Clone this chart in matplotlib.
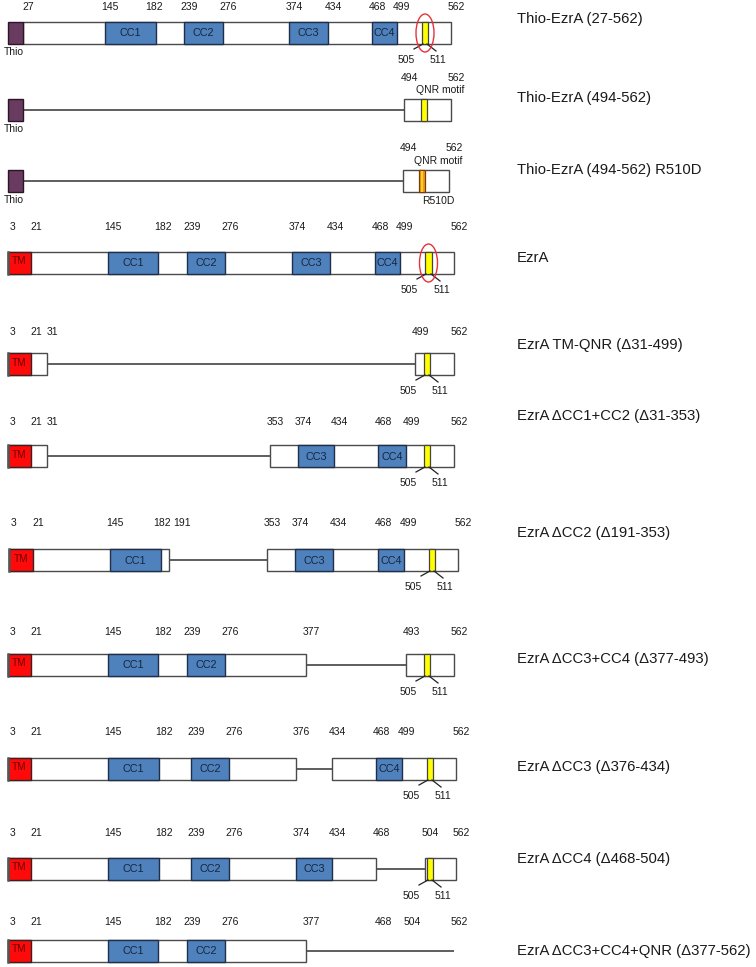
import numpy as np
import matplotlib
matplotlib.use("Agg")
import matplotlib.pyplot as plt
from matplotlib.patches import Rectangle, Ellipse
import matplotlib.transforms as mtransforms

plt.rcParams['font.family'] = ['Liberation Sans', 'DejaVu Sans']

# ---------------- data ----------------
names = [
    "Thio-EzrA (27-562)",
    "Thio-EzrA (494-562)",
    "Thio-EzrA (494-562) R510D",
    "EzrA",
    "EzrA TM-QNR (\u039431-499)",
    "EzrA \u0394CC1+CC2 (\u039431-353)",
    "EzrA \u0394CC2 (\u0394191-353)",
    "EzrA \u0394CC3+CC4 (\u0394377-493)",
    "EzrA \u0394CC3 (\u0394376-434)",
    "EzrA \u0394CC4 (\u0394468-504)",
    "EzrA \u0394CC3+CC4+QNR (\u0394377-562)",
]
tags = ["Thio", "Thio", "Thio", "TM", "TM", "TM", "TM", "TM", "TM", "TM", "TM"]
starts = [27, 27, 27, 3, 3, 3, 3, 3, 3, 3, 3]
ends = [562] * 11
fragments = [
    [(27, 562)],
    [(494, 562)],
    [(494, 562)],
    [(3, 562)],
    [(3, 31), (499, 562)],
    [(3, 31), (353, 562)],
    [(3, 191), (353, 562)],
    [(3, 377), (493, 562)],
    [(3, 376), (434, 562)],
    [(3, 468), (504, 562)],
    [(3, 377)],
]
tm_range = (3, 21)
cc_ranges = {"CC1": (145, 182), "CC2": (239, 276), "CC3": (374, 434), "CC4": (468, 499)}
row_domains = [
    ["CC1", "CC2", "CC3", "CC4"],
    [], [],
    ["CC1", "CC2", "CC3", "CC4"],
    [],
    ["CC3", "CC4"],
    ["CC1", "CC3", "CC4"],
    ["CC1", "CC2"],
    ["CC1", "CC2", "CC4"],
    ["CC1", "CC2", "CC3"],
    ["CC1", "CC2"],
]
qnr_range = (505, 511)
has_qnr = [True] * 10 + [False]
mutant = [False, False, True] + [False] * 8
circled = [True, False, False, True] + [False] * 7
motif_ticks = [True, False, False, True, True, True, True, True, True, True, False]
tick_labels = [
    [27, 145, 182, 239, 276, 374, 434, 468, 499, 562],
    [494, 562],
    [494, 562],
    [3, 21, 145, 182, 239, 276, 374, 434, 468, 499, 562],
    [3, 21, 31, 499, 562],
    [3, 21, 31, 353, 374, 434, 468, 499, 562],
    [3, 21, 145, 182, 191, 353, 374, 434, 468, 499, 562],
    [3, 21, 145, 182, 239, 276, 377, 493, 562],
    [3, 21, 145, 182, 239, 276, 376, 434, 468, 499, 562],
    [3, 21, 145, 182, 239, 276, 374, 434, 468, 504, 562],
    [3, 21, 145, 182, 239, 276, 377, 468, 504, 562],
]
extra_above = [None, "QNR motif", "QNR motif"] + [None] * 8
extra_below = [None, None, "R510D"] + [None] * 8

# ---------------- layout (schematic scale per row) ----------------
W, H = 756, 967
row_centers = [33, 110, 181, 263, 364, 456, 560, 665, 769, 869, 951]
label_y = [19, 98, 170, 258, 345, 416, 533, 659, 767, 859, 951]
num_dy = [-26, -32, -33, -36, -32, -34, -37, -33, -37, -36, -29]
label_dx_override = {(6, 182): 1, (6, 191): 13, (0, 182): -2}
anchors = [
    ([27, 145, 182, 239, 276, 374, 434, 468, 499, 505, 511, 562],
     [23, 105, 156, 184, 223, 289, 328, 372, 397, 422, 428, 451]),
    ([27, 494, 505, 511, 562], [23, 404, 421, 427, 451]),
    ([27, 494, 505, 511, 562], [23, 403, 419, 425, 449]),
    ([3, 21, 145, 182, 239, 276, 374, 434, 468, 499, 505, 511, 562],
     [8, 31, 108, 158, 187, 225, 292, 330, 375, 400, 425, 432, 454]),
    ([3, 21, 31, 499, 505, 511, 562], [8, 31, 47, 415, 424, 430, 454]),
    ([3, 21, 31, 353, 374, 434, 468, 499, 505, 511, 562],
     [8, 31, 47, 270, 298, 334, 378, 406, 424, 430, 454]),
    ([3, 21, 145, 182, 191, 353, 374, 434, 468, 499, 505, 511, 562],
     [9, 33, 110, 161, 169, 267, 295, 333, 378, 404, 429, 435, 458]),
    ([3, 21, 145, 182, 239, 276, 377, 493, 505, 511, 562],
     [8, 31, 108, 158, 187, 225, 306, 406, 424, 430, 454]),
    ([3, 21, 145, 182, 239, 276, 376, 434, 468, 499, 505, 511, 562],
     [8, 31, 108, 159, 191, 229, 296, 332, 376, 402, 427, 433, 456]),
    ([3, 21, 145, 182, 239, 276, 374, 434, 468, 504, 505, 511, 562],
     [8, 31, 108, 159, 191, 229, 296, 332, 376, 425, 427, 433, 456]),
    ([3, 21, 145, 182, 239, 276, 377, 562], [8, 31, 108, 158, 187, 225, 306, 454]),
]

HALF = 11      # bar half height (px)
TAG_W = 15     # Thio tag width (px)
BAND = 50

C_EDGE = "#4a4a4a"
C_CC = "#4F81BD"
C_CC_EDGE = "#1f2f4a"
C_TM = "#FF0A0A"
C_THIO = "#6A3B60"
C_YEL = "#FFFF00"
C_ORANGE = "#F39A1E"
C_RING = "#E8323A"
C_TEXT = "#1a1a1a"
FS_NUM = 7.5
FS_NAME = 10.7


def make_scale(r_anc, p_anc):
    r = np.asarray(r_anc, float)
    p = np.asarray(p_anc, float)
    s0 = (p[1] - p[0]) / (r[1] - r[0])
    s1 = (p[-1] - p[-2]) / (r[-1] - r[-2])

    def fwd(x):
        x = np.asarray(x, float)
        y = np.interp(x, r, p)
        y = np.where(x < r[0], p[0] + (x - r[0]) * s0, y)
        y = np.where(x > r[-1], p[-1] + (x - r[-1]) * s1, y)
        return y

    def inv(y):
        y = np.asarray(y, float)
        x = np.interp(y, p, r)
        x = np.where(y < p[0], r[0] + (y - p[0]) / s0, x)
        x = np.where(y > p[-1], r[-1] + (y - p[-1]) / s1, x)
        return x

    return fwd, inv


fig = plt.figure(figsize=(W / 100, H / 100), dpi=100)
fig.patch.set_facecolor("white")

for i in range(len(names)):
    c = row_centers[i]
    ax = fig.add_axes([0, 1 - (c + BAND) / H, 1, 2 * BAND / H])
    ax.set_axis_off()
    fwd, inv = make_scale(*anchors[i])
    ax.set_xscale("function", functions=(fwd, inv))
    ax.set_autoscale_on(False)
    ax.set_xlim(float(inv(0)), float(inv(W)))
    ax.set_ylim(BAND, -BAND)

    def X(r, dx=0.0):
        return float(inv(fwd(r) + dx))

    # linker lines for deleted regions
    pts = [starts[i]]
    for a, b in fragments[i]:
        pts += [a, b]
    pts.append(ends[i])
    for k in range(0, len(pts), 2):
        a, b = pts[k], pts[k + 1]
        if b > a:
            ax.plot([a, b], [0, 0], color="#333333", lw=1.1, solid_capstyle="butt",
                    clip_on=False, zorder=1)

    # present fragments
    for a, b in fragments[i]:
        ax.add_patch(Rectangle((a, -HALF), b - a, 2 * HALF, facecolor="white",
                               edgecolor=C_EDGE, lw=1.0, zorder=2, clip_on=False))

    # tag
    if tags[i] == "Thio":
        x0 = X(starts[i], -TAG_W)
        ax.add_patch(Rectangle((x0, -HALF), starts[i] - x0, 2 * HALF, facecolor=C_THIO,
                               edgecolor="#2a1626", lw=1.0, zorder=3, clip_on=False))
        ax.text(X(starts[i], -TAG_W / 2 - 2), HALF + 8, "Thio", fontsize=FS_NUM,
                ha="center", va="center", color=C_TEXT, clip_on=False)
    else:
        a, b = tm_range
        ax.add_patch(Rectangle((a, -HALF), b - a, 2 * HALF, facecolor=C_TM,
                               edgecolor="#3a2020", lw=1.0, zorder=3, clip_on=False))
        ax.plot([a, a], [-HALF, HALF], color="#555555", lw=1.8, zorder=4, clip_on=False)
        ax.text(X((a + b) / 2), -1.5, "TM", fontsize=7.2, ha="center", va="center",
                color="#6a0000", clip_on=False, zorder=5)

    # coiled-coil domains
    for d in row_domains[i]:
        a, b = cc_ranges[d]
        ax.add_patch(Rectangle((a, -HALF), b - a, 2 * HALF, facecolor=C_CC,
                               edgecolor=C_CC_EDGE, lw=1.0, zorder=3, clip_on=False))
        ax.text(X((a + b) / 2), 0.5, d, fontsize=7.8, ha="center", va="center",
                color="#17263d", clip_on=False, zorder=5)

    # QNR motif
    if has_qnr[i]:
        a, b = qnr_range
        if mutant[i]:
            ax.add_patch(Rectangle((a, -HALF), b - a, 2 * HALF, facecolor=C_ORANGE,
                                   edgecolor="#7a3a10", lw=0.9, zorder=3, clip_on=False))
            xm0, xm1 = X(a, 2.2), X(b, -2.2)
            ax.add_patch(Rectangle((xm0, -HALF + 0.5), xm1 - xm0, 2 * HALF - 1,
                                   facecolor="#FFD21A", edgecolor="none", zorder=4,
                                   clip_on=False))
        else:
            ax.add_patch(Rectangle((a, -HALF), b - a, 2 * HALF, facecolor=C_YEL,
                                   edgecolor="#444444", lw=0.9, zorder=3, clip_on=False))

    if motif_ticks[i]:
        a, b = qnr_range
        ax.plot([X(a, 1), X(a, -8)], [HALF, HALF + 5], color="#222222", lw=0.9,
                clip_on=False, zorder=5)
        ax.plot([X(b, -1), X(b, 8)], [HALF, HALF + 7], color="#222222", lw=0.9,
                clip_on=False, zorder=5)
        ax.text(X(a, -16), HALF + 16, str(a), fontsize=FS_NUM, ha="center", va="center",
                color=C_TEXT, clip_on=False)
        ax.text(X(b, 10), HALF + 16, str(b), fontsize=FS_NUM, ha="center", va="center",
                color=C_TEXT, clip_on=False)

    if circled[i]:
        a, b = qnr_range
        xc = X((a + b) / 2)
        tr = mtransforms.IdentityTransform() + mtransforms.ScaledTranslation(xc, 0, ax.transData)
        ax.add_patch(Ellipse((0, 0), 18, 38, facecolor="none", edgecolor=C_RING,
                             lw=1.0, transform=tr, zorder=6, clip_on=False))

    # residue numbers above
    for r in tick_labels[i]:
        dx = label_dx_override.get((i, r), 5)
        ax.text(X(r, dx), num_dy[i], str(r), fontsize=FS_NUM, ha="center", va="center",
                color=C_TEXT, clip_on=False)

    if extra_above[i]:
        a, b = fragments[i][-1]
        ax.text(X((a + b) / 2, 5), -20, extra_above[i], fontsize=FS_NUM, ha="center",
                va="center", color=C_TEXT, clip_on=False)
    if extra_below[i]:
        a, b = fragments[i][-1]
        ax.text(X((a + b) / 2, 5), 20, extra_below[i], fontsize=FS_NUM, ha="center",
                va="center", color=C_TEXT, clip_on=False)

    fig.text(517 / W, 1 - label_y[i] / H, names[i], fontsize=FS_NAME, ha="left",
             va="center", color=C_TEXT)

fig.savefig("out.png", dpi=100, facecolor="white")
